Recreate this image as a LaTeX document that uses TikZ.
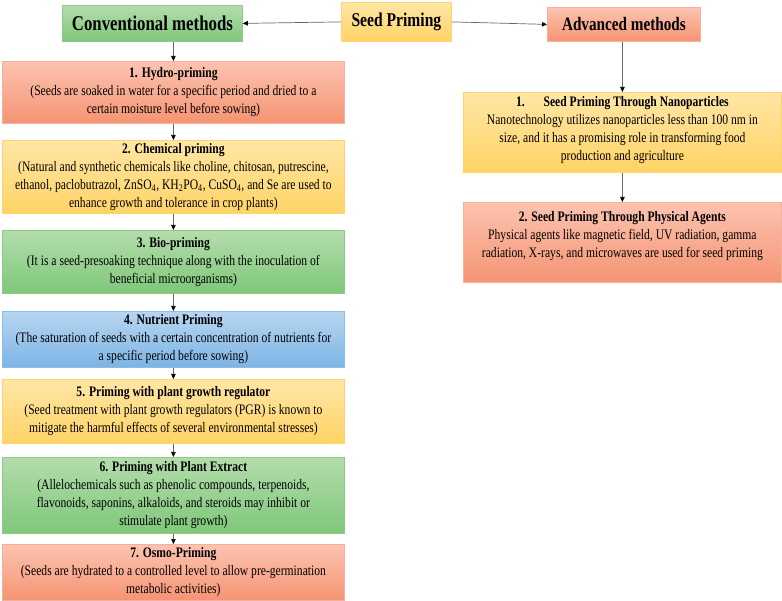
\documentclass[tikz,border=0pt]{standalone}
\usepackage{fontspec}
\setmainfont{Liberation Serif}[FakeStretch=0.8]
\usetikzlibrary{arrows.meta}
\definecolor{salmtop}{HTML}{FCC3B0}
\definecolor{salmbot}{HTML}{F59473}
\definecolor{salmborder}{HTML}{F4B09A}
\definecolor{yeltop}{HTML}{FFE6A6}
\definecolor{yelbot}{HTML}{FFD466}
\definecolor{yelborder}{HTML}{FFD56B}
\definecolor{grntop}{HTML}{B3DDAB}
\definecolor{grnbot}{HTML}{7FC77A}
\definecolor{grnborder}{HTML}{8CCB86}
\definecolor{blutop}{HTML}{B7D6F1}
\definecolor{blubot}{HTML}{7DB4E4}
\definecolor{bluborder}{HTML}{8BBDE8}
\begin{document}
\begin{tikzpicture}[x=1pt,y=-1pt,
  box/.style={draw=#1border, top color=#1top, bottom color=#1bot, anchor=north west, inner sep=0pt, line width=0.8pt},
  txt/.style={align=center, inner sep=0pt, font=\fontsize{14.5}{18}\selectfont},
  head/.style={font=\bfseries\fontsize{#1}{24}\selectfont},
  arr/.style={draw=black!60, line width=0.7pt, -{Triangle[length=5pt,width=4.5pt,color=black]}}
]
\useasboundingbox (0,0) rectangle (782,601);

% top row
\node[box=grn, minimum width=180pt, minimum height=36pt, head=21] (conv) at (62,5) {Conventional methods};
\node[box=yel, minimum width=110pt, minimum height=39pt, head=19.5] (seed) at (341,2) {Seed Priming};
\node[box=salm, minimum width=153pt, minimum height=34pt, head=19] (adv) at (547,7) {Advanced methods};

% left column
\node[box=salm, minimum width=342pt, minimum height=62pt] (b1) at (2,61) {};
\node[txt] (t1) at (b1.center) {\textbf{1. Hydro-priming}\\
(Seeds are soaked in water for a specific period and dried to a\\
certain moisture level before sowing)};

\node[box=yel, minimum width=342pt, minimum height=73pt] (b2) at (2,140) {};
\node[txt] (t2) at (b2.center) {\textbf{2. Chemical priming}\\
(Natural and synthetic chemicals like choline, chitosan, putrescine,\\
ethanol, paclobutrazol, ZnSO\textsubscript{4}, KH\textsubscript{2}PO\textsubscript{4}, CuSO\textsubscript{4}, and Se are used to\\
enhance growth and tolerance in crop plants)};

\node[box=grn, minimum width=342pt, minimum height=63pt] (b3) at (2,230) {};
\node[txt] (t3) at (b3.center) {\textbf{3. Bio-priming}\\
(It is a seed-presoaking technique along with the inoculation of\\
beneficial microorganisms)};

\node[box=blu, minimum width=342pt, minimum height=56pt] (b4) at (2,311) {};
\node[txt] (t4) at (b4.center) {\textbf{4. Nutrient Priming}\\
(The saturation of seeds with a certain concentration of nutrients for\\
a specific period before sowing)};

\node[box=yel, minimum width=342pt, minimum height=64pt] (b5) at (2,379) {};
\node[txt] (t5) at (b5.center) {\textbf{5. Priming with plant growth regulator}\\
(Seed treatment with plant growth regulators (PGR) is known to\\
mitigate the harmful effects of several environmental stresses)};

\node[box=grn, minimum width=342pt, minimum height=76pt] (b6) at (2,457) {};
\node[txt] (t6) at (b6.center) {\textbf{6. Priming with Plant Extract}\\
(Allelochemicals such as phenolic compounds, terpenoids,\\
flavonoids, saponins, alkaloids, and steroids may inhibit or\\
stimulate plant growth)};

\node[box=salm, minimum width=342pt, minimum height=56pt] (b7) at (2,544) {};
\node[txt] (t7) at (b7.center) {\textbf{7. Osmo-Priming}\\
(Seeds are hydrated to a controlled level to allow pre-germination\\
metabolic activities)};

% right column
\node[box=yel, minimum width=318pt, minimum height=80pt] (r1) at (463,92) {};
\node[txt] (u1) at ([yshift=2pt]r1.center) {\textbf{1.\hspace{1.3em}Seed Priming Through Nanoparticles}\\
Nanotechnology utilizes nanoparticles less than 100 nm in\\
size, and it has a promising role in transforming food\\
production and agriculture};

\node[box=salm, minimum width=318pt, minimum height=80pt] (r2) at (463,202) {};
\node[txt] (u2) at ([yshift=6pt]r2.center) {\textbf{2. Seed Priming Through Physical Agents}\\
Physical agents like magnetic field, UV radiation, gamma\\
radiation, X-rays, and microwaves are used for seed priming};

% connectors
\draw[arr] (seed.west) -- (conv.east);
\draw[arr] (seed.east) -- (adv.west);
\draw[arr] (conv.south -| b1.north) -- (b1.north);
\draw[arr] (b1.south) -- (b2.north);
\draw[arr] (b2.south) -- (b3.north);
\draw[arr] (b3.south) -- (b4.north);
\draw[arr] (b4.south) -- (b5.north);
\draw[arr] (b5.south) -- (b6.north);
\draw[arr] (b6.south) -- (b7.north);
\draw[arr] (adv.south -| r1.north) -- (r1.north);
\draw[arr] (r1.south) -- (r2.north);
\end{tikzpicture}
\end{document}
